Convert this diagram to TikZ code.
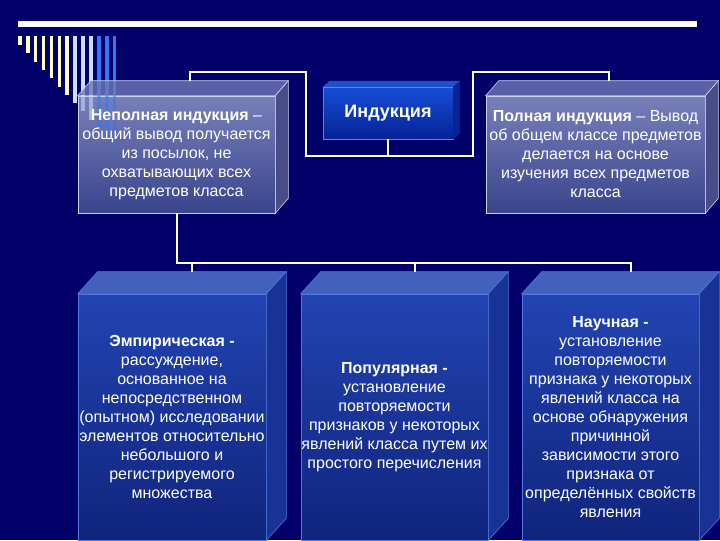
\documentclass[tikz,border=0pt]{standalone}
\usepackage{fontspec}
\setmainfont{Liberation Sans}
\usetikzlibrary{calc}
\definecolor{bg}{RGB}{0,0,104}
\definecolor{cream}{RGB}{255,255,200}
\definecolor{pale}{RGB}{205,222,255}
\definecolor{stripe}{RGB}{50,120,240}
\definecolor{greytop}{RGB}{120,128,186}
\definecolor{greybot}{RGB}{58,68,140}
\definecolor{greyside}{RGB}{112,120,182}
\definecolor{greyedge}{RGB}{205,210,240}
\definecolor{indtop}{RGB}{22,78,214}
\definecolor{indbot}{RGB}{6,34,150}
\definecolor{indside}{RGB}{30,80,200}
\definecolor{bluetop}{RGB}{34,68,178}
\definecolor{bluebot}{RGB}{16,36,124}
\definecolor{blueside}{RGB}{24,50,150}
\definecolor{blueedge}{RGB}{80,122,225}
\begin{document}
\begin{tikzpicture}[x=1pt, y=-1pt,
    link/.style={white, line width=2pt},
    txt/.style={text=white, align=center, inner sep=0pt, font=\fontsize{16}{19}\selectfont},
    greybox/.style={txt, minimum width=#1, minimum height=117pt, draw=greyedge, line width=0.6pt,
        top color=greytop, bottom color=greybot},
    bluebox/.style={txt, minimum width=#1, minimum height=246pt, draw=blueedge, line width=0.6pt,
        top color=bluetop, bottom color=bluebot}]
    % background and title bar
    \fill[bg] (0,0) rectangle (720,540);
    \fill[white] (18,21) rectangle (697,27);
    \foreach \i/\c in {0/cream,1/cream,2/cream,3/cream,4/cream,5/cream,6/cream,
                       7/pale,8/pale,9/pale,10/stripe,11/stripe,12/stripe}
        \fill[\c] ({18+7.9*\i},36) rectangle ++(3.6,{9+8.3*\i});

    % top row
    \node[greybox=197pt] (nep) at (176.5,154.5) {};
    \node[greybox=219pt] (pol) at (595.5,154.5) {};
    \foreach \n in {nep,pol} {
        \filldraw[greyside, draw=greyedge, line width=0.6pt, fill opacity=0.8]
            (\n.north west) -- ++(13,-15) -- ($(\n.north east)+(13,-15)$) -- (\n.north east) -- cycle;
        \filldraw[greyside!80!black, draw=greyedge, line width=0.6pt, fill opacity=0.8]
            (\n.north east) -- ++(13,-15) -- ($(\n.south east)+(13,-15)$) -- (\n.south east) -- cycle;
        \coordinate (\n B) at ($(\n.north)+(13,-15)$);
    }
    % stripes seen through the glass
    \begin{scope}
        \clip (nep.south west) rectangle (nep.north east);
        \foreach \i/\c in {8/pale,9/pale,10/stripe,11/stripe,12/stripe}
            \fill[\c, opacity=0.55] ({18+7.9*\i},90) rectangle ({21.6+7.9*\i},{45+8.3*\i});
    \end{scope}
    \node[txt] at (nep) {\textbf{Неполная индукция} –\\общий вывод получается\\из посылок, не\\охватывающих всех\\предметов класса};
    \node[txt] at (pol) {\textbf{Полная индукция} – Вывод\\об общем классе предметов\\делается на основе\\изучения всех предметов\\класса};
    \node[txt, minimum width=130pt, minimum height=52pt, top color=indtop, bottom color=indbot,
        draw=indside!70!white, line width=0.4pt, font=\fontsize{18}{20}\selectfont\bfseries] (ind) at (388,113) {Индукция};
    \fill[indside] (ind.north west) -- ++(7,-6) -- ($(ind.north east)+(7,-6)$) -- (ind.north east) -- cycle;
    \fill[indbot] (ind.north east) -- ++(7,-6) -- ($(ind.south east)+(7,-6)$) -- (ind.south east) -- cycle;

    % bottom row
    \node[bluebox=188pt] (emp) at (172,417) {\textbf{Эмпирическая -}\\рассуждение,\\основанное на\\непосредственном\\(опытном) исследовании\\элементов относительно\\небольшого и\\регистрируемого\\множества};
    \node[bluebox=187pt] (pop) at (394.5,417) {\textbf{Популярная -}\\установление\\повторяемости\\признаков у некоторых\\явлений класса путем их\\простого перечисления};
    \node[bluebox=177pt] (nau) at (610.5,417) {\textbf{Научная -}\\установление\\повторяемости\\признака у некоторых\\явлений класса на\\основе обнаружения\\причинной\\зависимости этого\\признака от\\определённых свойств\\явления};
    \foreach \n in {emp,pop,nau} {
        \filldraw[bluetop!85!white, draw=blueedge, line width=0.6pt]
            (\n.north west) -- ++(20,-22) -- ($(\n.north east)+(20,-22)$) -- (\n.north east) -- cycle;
        \filldraw[blueside, draw=blueedge, line width=0.6pt]
            (\n.north east) -- ++(20,-22) -- ($(\n.south east)+(20,-22)$) -- (\n.south east) -- cycle;
        \coordinate (\n B) at ($(\n.north)+(20,-22)$);
    }

    % connectors
    \coordinate (kl) at (306,72);
    \coordinate (kr) at (473,72);
    \coordinate (hr) at (473,156);
    \coordinate (bus) at (0,263);
    \draw[link] (nepB) |- (kl) |- (hr) -- (kr) -| (polB);
    \draw[link] (ind.south) -- (ind.south |- hr);
    \draw[link] (nep.south) -- (nep.south |- bus) -| (nauB);
    \draw[link] (empB |- bus) -- (empB);
    \draw[link] (popB |- bus) -- (popB);
\end{tikzpicture}
\end{document}
